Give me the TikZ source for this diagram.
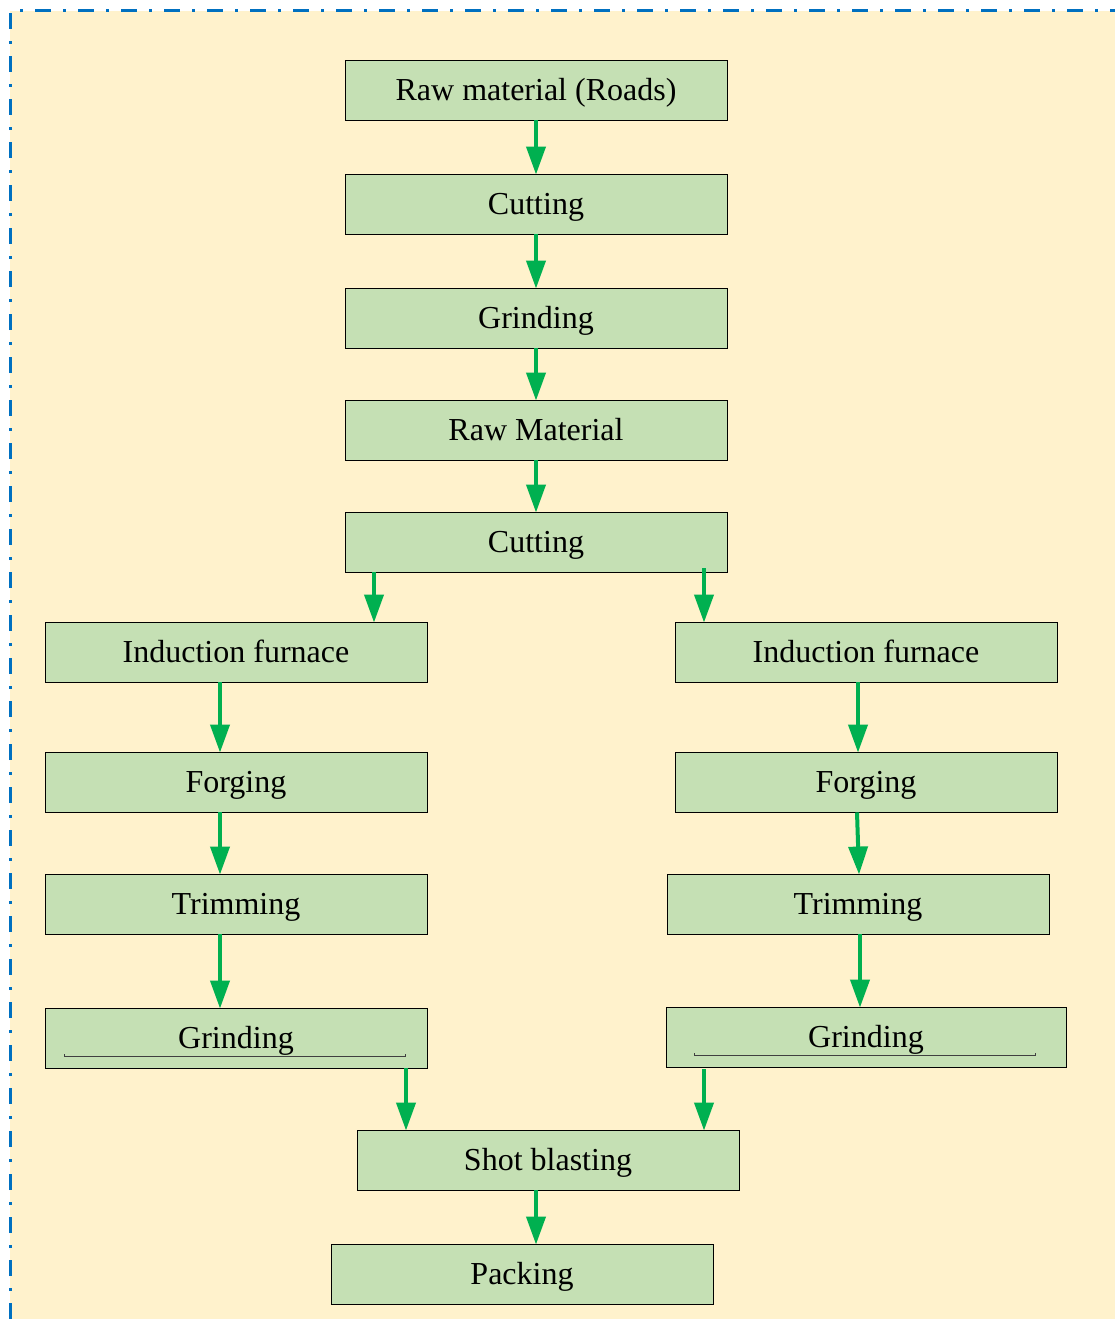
\documentclass[tikz,border=0pt]{standalone}
\usepackage{fontspec}
\setmainfont{Liberation Serif}
\usetikzlibrary{arrows.meta}
\definecolor{bgc}{HTML}{FFF2CC}
\definecolor{boxc}{HTML}{C5E0B4}
\definecolor{arrc}{HTML}{00B050}
\definecolor{brd}{HTML}{0070C0}
\tikzset{
  stepbox/.style={draw=black, line width=0.9pt, fill=boxc, minimum width=382pt, minimum height=60pt, inner sep=0pt, text height=28pt, text depth=7pt, font=\fontsize{32}{38}\selectfont},
  arr/.style={draw=arrc, line width=4pt, -{Triangle[length=28pt,width=19pt]}, shorten >=-1pt},
  uline/.style={draw=black!75, line width=1pt}
}
\begin{document}
\begin{tikzpicture}[x=1pt,y=-1pt]
\useasboundingbox (0,0) rectangle (1115,1319);
\fill[bgc] (10,11) rectangle (1115,1319);
\draw[brd, line width=3pt, dash pattern=on 16pt off 12pt on 3pt off 12pt] (10,1319) -- (10,11) -- (1115,11);

\node[stepbox] (rm1) at (536,90) {Raw material (Roads)};
\node[stepbox] (cut1) at (536,204) {Cutting};
\node[stepbox] (gr1) at (536,318) {Grinding};
\node[stepbox] (rm2) at (536,430) {Raw Material};
\node[stepbox] (cut2) at (536,542) {Cutting};

\node[stepbox] (ifL) at (236,652) {Induction furnace};
\node[stepbox] (fgL) at (236,782) {Forging};
\node[stepbox] (trL) at (236,904) {Trimming};
\node[stepbox] (grL) at (236,1038) {Grinding};

\node[stepbox] (ifR) at (866,652) {Induction furnace};
\node[stepbox] (fgR) at (866,782) {Forging};
\node[stepbox] (trR) at (858,904) {Trimming};
\node[stepbox, minimum width=400pt] (grR) at (866,1037) {Grinding};

\node[stepbox] (sb) at (548,1160) {Shot blasting};
\node[stepbox] (pk) at (522,1274) {Packing};

% underlines in grinding boxes
\draw[uline] ([xshift=20pt,yshift=14pt]grL.south west) -- ([xshift=20pt,yshift=12pt]grL.south west) -- ([xshift=-22pt,yshift=12pt]grL.south east) -- ([xshift=-22pt,yshift=14pt]grL.south east);
\draw[uline] ([xshift=29pt,yshift=14pt]grR.south west) -- ([xshift=29pt,yshift=12pt]grR.south west) -- ([xshift=-31pt,yshift=12pt]grR.south east) -- ([xshift=-31pt,yshift=14pt]grR.south east);

% arrows
\draw[arr] (rm1) -- (cut1);
\draw[arr] (cut1) -- (gr1);
\draw[arr] (gr1) -- (rm2);
\draw[arr] (rm2) -- (cut2);
\draw[arr] ([xshift=-162pt]cut2.south) -- ([xshift=138pt]ifL.north);
\draw[arr] ([xshift=168pt,yshift=4pt]cut2.south) -- ([xshift=-162pt]ifR.north);
\draw[arr] ([xshift=-16pt]ifL.south) -- ([xshift=-16pt]fgL.north);
\draw[arr] ([xshift=-16pt]fgL.south) -- ([xshift=-16pt]trL.north);
\draw[arr] ([xshift=-16pt]trL.south) -- ([xshift=-16pt]grL.north);
\draw[arr] ([xshift=-8pt]ifR.south) -- ([xshift=-8pt]fgR.north);
\draw[arr] ([xshift=-9pt]fgR.south) -- ([xshift=1pt]trR.north);
\draw[arr] ([xshift=2pt]trR.south) -- ([xshift=-6pt]grR.north);
\draw[arr] ([xshift=170pt]grL.south) -- ([xshift=-142pt]sb.north);
\draw[arr] ([xshift=-162pt,yshift=-2pt]grR.south) -- ([xshift=156pt]sb.north);
\draw[arr] ([xshift=-12pt]sb.south) -- ([xshift=14pt]pk.north);
\end{tikzpicture}
\end{document}
